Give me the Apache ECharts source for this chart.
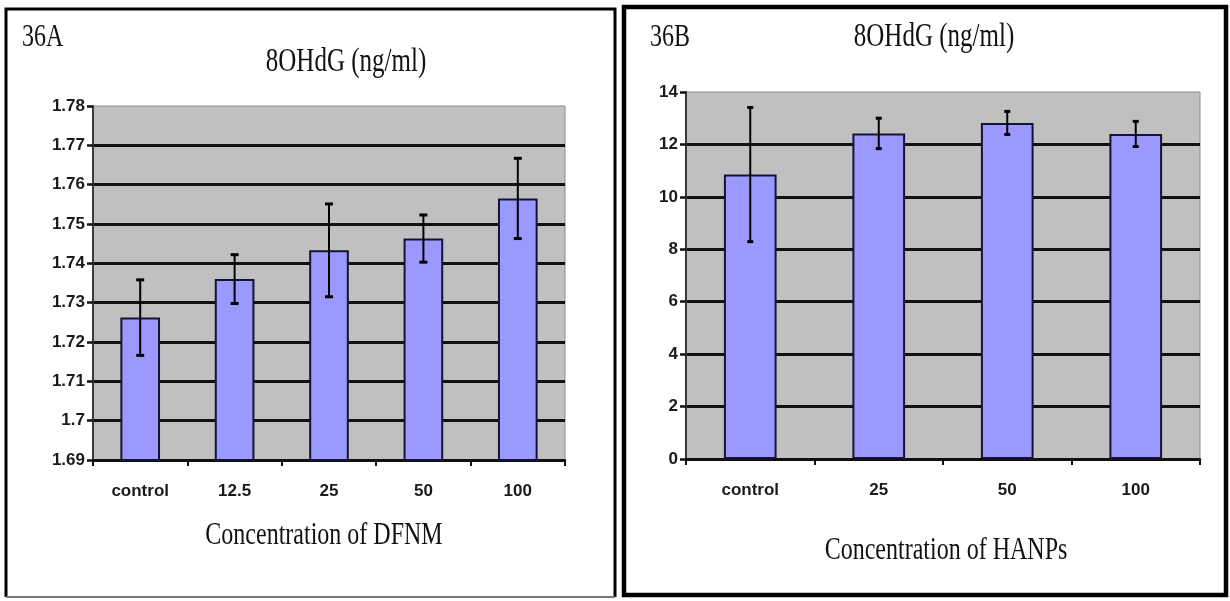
<!DOCTYPE html>
<html>
<head>
<meta charset="utf-8">
<script src="https://cdn.jsdelivr.net/npm/echarts@6/dist/echarts.min.js"></script>
<style>
  html, body { margin: 0; padding: 0; background: #ffffff; }
  #chart { width: 1230px; height: 601px; }
</style>
</head>
<body>
<div id="chart"></div>
<script>
// Panel 36A: 8OHdG by DFNM concentration
const categoriesA = ['control', '12.5', '25', '50', '100'];
const meansA = [1.7262, 1.7360, 1.7433, 1.7463, 1.7565];
const errorsA = [0.0096, 0.0062, 0.0118, 0.0060, 0.0102];
const yTicksA = ['1.69', '1.7', '1.71', '1.72', '1.73', '1.74', '1.75', '1.76', '1.77', '1.78'];

// Panel 36B: 8OHdG by HANPs concentration
const categoriesB = ['control', '25', '50', '100'];
const meansB = [10.85, 12.42, 12.82, 12.40];
const errorsB = [2.56, 0.58, 0.44, 0.48];
const yTicksB = ['0', '2', '4', '6', '8', '10', '12', '14'];

const labelFont = "'Liberation Sans Narrow', 'Liberation Sans', Arial, sans-serif";
const serifFont = "'Liberation Serif', 'Times New Roman', serif";

const chart = echarts.init(document.getElementById('chart'), null, { renderer: 'canvas' });

function errorRange(means, errors) {
  return means.map((m, i) => [i, m - errors[i], m + errors[i]]);
}

function errorBar(capHalf) {
  return function (params, api) {
    const i = api.value(0);
    const lo = api.coord([i, api.value(1)]);
    const hi = api.coord([i, api.value(2)]);
    const stem = { stroke: '#000', lineWidth: 2 };
    const cap = { stroke: '#000', lineWidth: 3 };
    return {
      type: 'group',
      children: [
        { type: 'line', shape: { x1: lo[0], y1: lo[1], x2: hi[0], y2: hi[1] }, style: stem },
        { type: 'line', shape: { x1: hi[0] - capHalf, y1: hi[1], x2: hi[0] + capHalf, y2: hi[1] }, style: cap },
        { type: 'line', shape: { x1: lo[0] - capHalf, y1: lo[1], x2: lo[0] + capHalf, y2: lo[1] }, style: cap }
      ]
    };
  };
}

function valueAxis(gridIndex, ticks, step) {
  const lo = parseFloat(ticks[0]);
  return {
    type: 'value',
    gridIndex: gridIndex,
    min: lo,
    max: parseFloat(ticks[ticks.length - 1]),
    interval: step,
    axisLine: { show: true, lineStyle: { color: '#3a3a3a', width: 2 } },
    axisTick: { show: true, length: 6, lineStyle: { color: '#111', width: 2.5 } },
    axisLabel: {
      margin: 8,
      color: '#1a1a1a',
      fontFamily: labelFont,
      fontWeight: 'bold',
      fontSize: 17,
      formatter: v => ticks[Math.round((v - lo) / step)]
    },
    splitLine: { show: true, showMaxLine: false, lineStyle: { color: '#111', width: 3 } }
  };
}

function categoryAxis(gridIndex, cats) {
  return {
    type: 'category',
    gridIndex: gridIndex,
    data: cats,
    axisLine: { show: true, lineStyle: { color: '#111', width: 2.5 } },
    axisTick: { show: true, length: 6, lineStyle: { color: '#111', width: 2 } },
    axisLabel: {
      margin: 23,
      color: '#1a1a1a',
      fontFamily: labelFont,
      fontWeight: 'bold',
      fontSize: 17
    }
  };
}

function bigText(text, x, y, align, size) {
  return {
    type: 'text',
    x: x,
    y: y,
    scaleY: 1.35,
    style: {
      text: text,
      x: 0,
      y: 0,
      align: align,
      verticalAlign: 'middle',
      font: size + 'px ' + serifFont,
      fill: '#111'
    }
  };
}

const barStyle = { color: '#9999FF', borderColor: '#141432', borderWidth: 2 };

chart.setOption({
  backgroundColor: '#ffffff',
  animation: false,
  grid: [
    { left: 93, top: 106, width: 472, height: 354, show: true, backgroundColor: '#C0C0C0', borderColor: '#8c8c8c', borderWidth: 1 },
    { left: 686, top: 92, width: 514, height: 367, show: true, backgroundColor: '#C0C0C0', borderColor: '#8c8c8c', borderWidth: 1 }
  ],
  xAxis: [categoryAxis(0, categoriesA), categoryAxis(1, categoriesB)],
  yAxis: [valueAxis(0, yTicksA, 0.01), valueAxis(1, yTicksB, 2)],
  series: [
    { type: 'bar', xAxisIndex: 0, yAxisIndex: 0, data: meansA, barWidth: '42%', itemStyle: barStyle },
    { type: 'custom', xAxisIndex: 0, yAxisIndex: 0, data: errorRange(meansA, errorsA),
      encode: { x: 0, y: [1, 2] }, renderItem: errorBar(4), z: 5 },
    { type: 'bar', xAxisIndex: 1, yAxisIndex: 1, data: meansB, barWidth: '41%', itemStyle: barStyle },
    { type: 'custom', xAxisIndex: 1, yAxisIndex: 1, data: errorRange(meansB, errorsB),
      encode: { x: 0, y: [1, 2] }, renderItem: errorBar(3), z: 5 }
  ],
  graphic: [
    // panel frames
    { type: 'polyline', shape: { points: [[6, 597], [6, 9], [615, 9], [615, 597]] },
      style: { stroke: '#000', lineWidth: 3, fill: null } },
    { type: 'line', shape: { x1: 6, y1: 597, x2: 615, y2: 597 }, style: { stroke: '#777', lineWidth: 2 } },
    { type: 'rect', shape: { x: 624, y: 7, width: 602, height: 588 },
      style: { stroke: '#000', lineWidth: 4.5, fill: null } },
    // panel texts
    bigText('36A', 22, 37, 'left', 24),
    bigText('8OHdG (ng/ml)', 346, 62, 'center', 25),
    bigText('Concentration of DFNM', 324, 535, 'center', 24),
    bigText('36B', 650, 37, 'left', 24),
    bigText('8OHdG (ng/ml)', 934, 37, 'center', 25),
    bigText('Concentration of HANPs', 946, 550, 'center', 24)
  ]
});
</script>
</body>
</html>
